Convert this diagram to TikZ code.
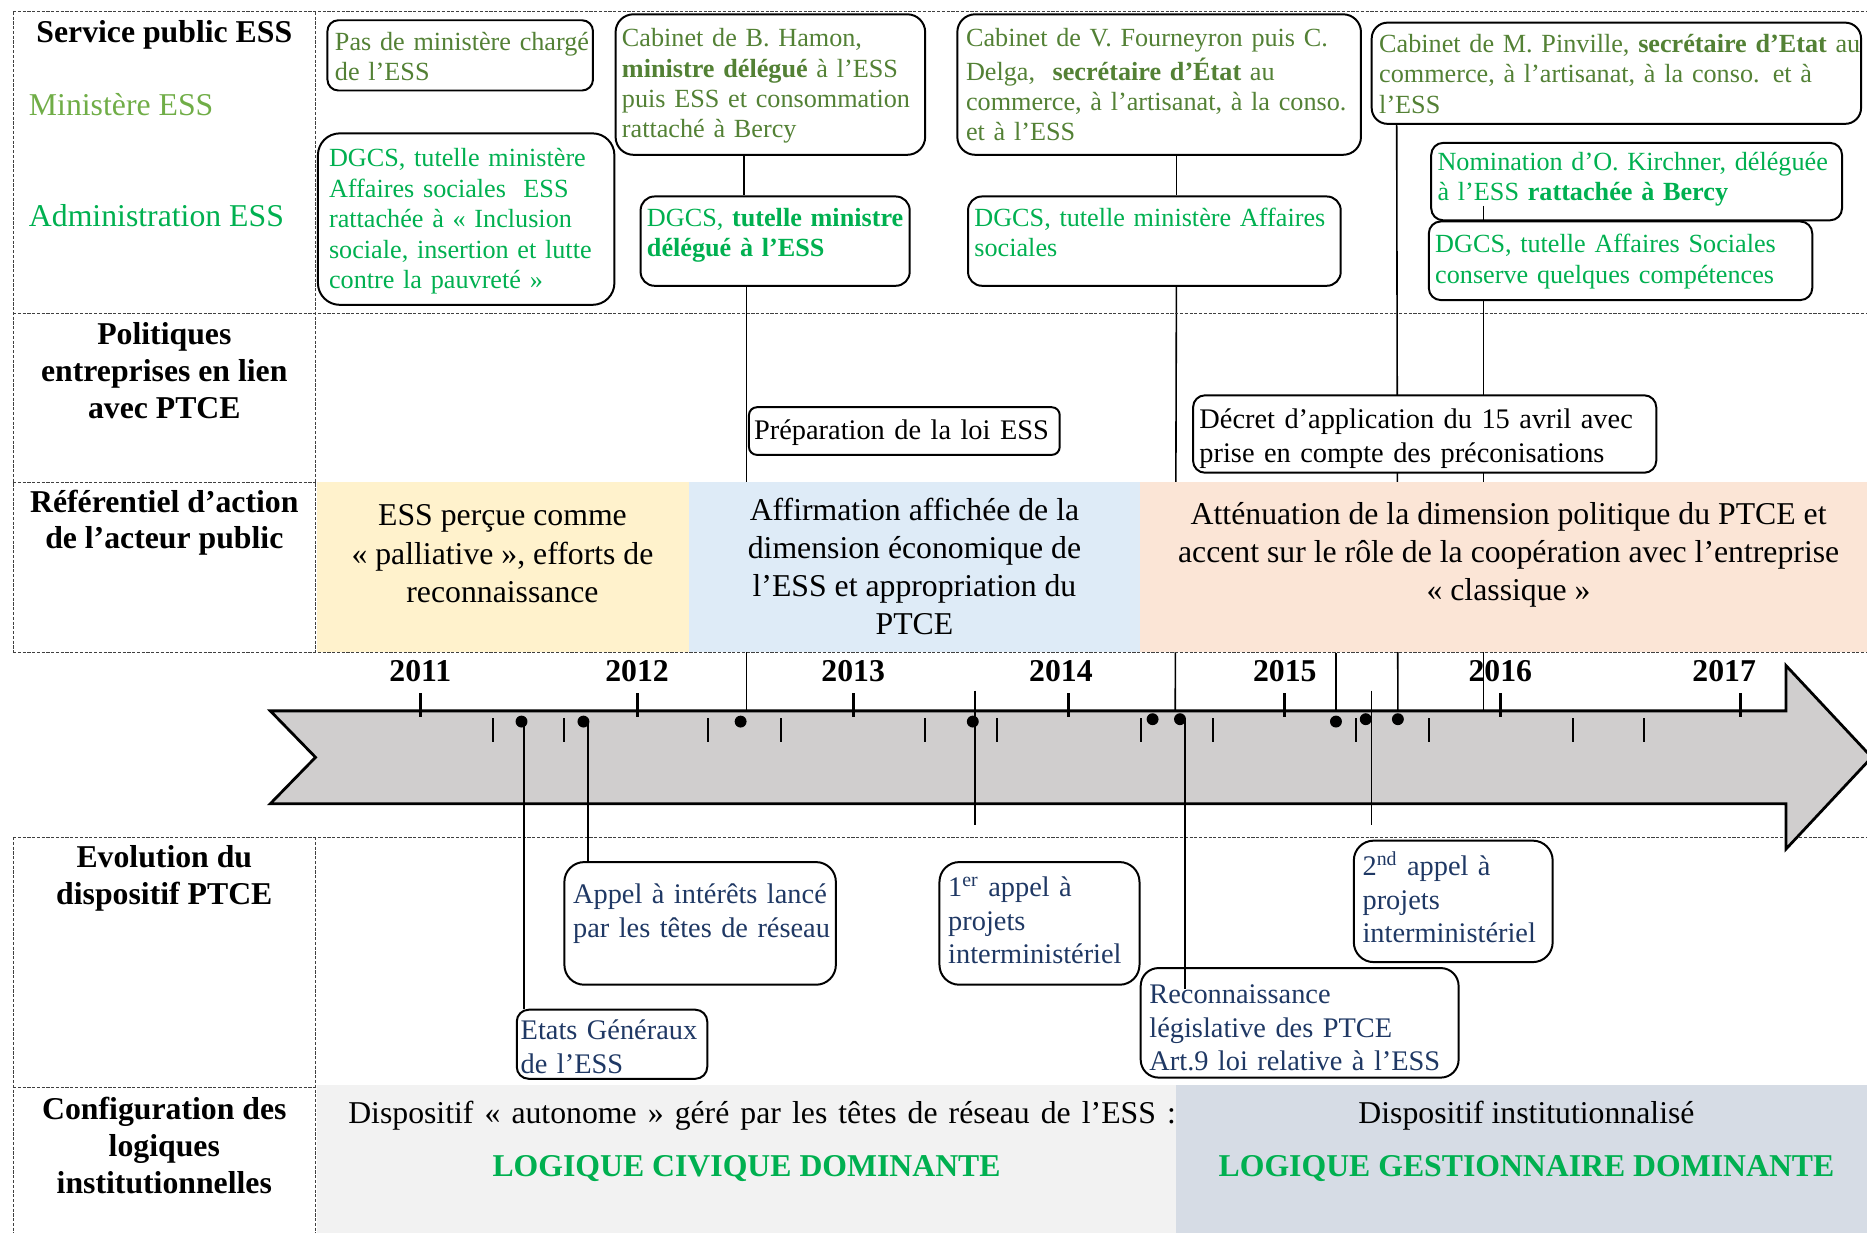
\documentclass[tikz,border=0pt]{standalone}
\usepackage{fontspec}
\setmainfont{Liberation Serif}
\usetikzlibrary{calc,fit}
\definecolor{cabgreen}{HTML}{538135}
\definecolor{lgreen}{HTML}{70AD47}
\definecolor{bgreen}{HTML}{00B050}
\definecolor{navy}{HTML}{1F3864}
\definecolor{cyel}{HTML}{FFF2CC}
\definecolor{cblue}{HTML}{DEEBF7}
\definecolor{cpeach}{HTML}{FBE5D6}
\definecolor{cgray}{HTML}{F2F2F2}
\definecolor{cbgray}{HTML}{D6DCE5}
\definecolor{arrowgray}{HTML}{D0CECE}
\newcommand\fb{\fontsize{13.2}{15.3}\selectfont}
\newcommand\fe{\fontsize{14.3}{16.9}\selectfont}
\newcommand\fh{\fontsize{16}{18.6}\selectfont}
\newcommand\fr{\fontsize{16}{19.2}\selectfont}
\pgfdeclarelayer{conn}
\pgfdeclarelayer{fills}
\pgfdeclarelayer{tl}
\pgfdeclarelayer{top}
\pgfsetlayers{conn,fills,tl,main,top}
\newcommand\tb[7]{%
  \node[rbox,#4,fit={#2 #3}] (#1) {};
  \node[tx,#6] (#1t) at #5 {\strut #7};
}
\begin{document}
\begin{tikzpicture}[x=0.6pt,y=-0.6pt,
  rbox/.style={draw=black, line width=1pt, fill=white, inner sep=0pt},
  tx/.style={anchor=north west, inner sep=0pt, align=left, text width=300pt, font=\fb},
  evo/.style={font=\fe, text=navy},
  grid/.style={line width=0.5pt, dash pattern=on 1.6pt off 0.8pt, black!75},
  conn/.style={line width=0.8pt},
  hd/.style={font=\fh\bfseries, align=center},
  yr/.style={font=\fh\bfseries},
  dot/.style={circle, fill=black, inner sep=0pt, minimum size=6pt},
  major/.style={line width=1.5pt},
  minor/.style={line width=1pt}]
\useasboundingbox (0,0) rectangle (1568,1035.5);

% ---------- fills and grid ----------
\begin{pgfonlayer}{fills}
\fill[cyel] (266,404.5) rectangle (579,547.5);
\fill[cblue] (579,404.5) rectangle (957,547.5);
\fill[cpeach] (957,404.5) rectangle (1568,547.5);
\fill[cgray] (266,911) rectangle (988,1036);
\fill[cbgray] (988,911) rectangle (1568,1036);
\draw[grid] (11,10) -- (1568,10);
\draw[grid] (11,263) -- (1568,263);
\draw[grid] (11,405) -- (265,405);
\draw[grid] (11,548) -- (1568,548);
\draw[grid] (11,703) -- (1568,703);
\draw[grid] (11,913) -- (265,913);
\draw[grid] (11,10) -- (11,548);
\draw[grid] (265,10) -- (265,548);
\draw[grid] (11,703) -- (11,1036);
\draw[grid] (265,703) -- (265,1036);
\end{pgfonlayer}

% ---------- timeline arrow ----------
\begin{pgfonlayer}{tl}
\draw[line width=1.4pt, fill=arrowgray, line join=miter]
  (227,597) -- (1500,597) -- (1500,559) -- (1572,636) -- (1500,713)
  -- (1500,675) -- (227,675) -- (265,636) -- cycle;
\foreach \x in {353,535,716.5,897.5,1079,1260,1462}
  \draw[major] (\x,582) -- (\x,602);
\foreach \x in {414,474,595,656,777,837,958,1019,1139,1200,1321,1381}
  \draw[minor] (\x,603) -- (\x,623);
\node[dot] (d1) at (438,606) {};
\node[dot] (d2) at (490,606) {};
\node[dot] (d3) at (622,606) {};
\node[dot] (d4) at (817,606) {};
\node[dot] (d5) at (968,604) {};
\node[dot] (d6) at (991,604) {};
\node[dot] (d7) at (1122,606) {};
\node[dot] (d8) at (1147,604) {};
\node[dot] (d9) at (1174,604) {};
\end{pgfonlayer}

% ---------- year labels ----------
\node[yr] (y1) at (353,564) {2011};
\node[yr] (y2) at (535,564) {2012};
\node[yr] (y3) at (716.5,564) {2013};
\node[yr] (y4) at (891,564) {2014};
\node[yr] (y5) at (1079,564) {2015};
\node[yr] (y6) at (1260,564) {2016};
\node[yr] (y7) at (1448,564) {2017};

% ---------- left column headings ----------
\node[hd] (h1) at (138,29) {Service public ESS};
\node[font=\fh, text=lgreen, anchor=west, inner sep=0pt] (h1a) at (24,88) {Ministère ESS};
\node[font=\fh, text=bgreen, anchor=west, inner sep=0pt] (h1b) at (24,181) {Administration ESS};
\node[hd] (h2) at (138,311) {Politiques\\ entreprises en lien\\ avec PTCE};
\node[hd] (h3) at (138,439) {Référentiel d’action\\ de l’acteur public};
\node[hd] (h4) at (138,738) {Evolution du\\ dispositif PTCE};
\node[hd] (h5) at (138,962) {Configuration des\\ logiques\\ institutionnelles};

% ---------- référentiel row ----------
\node[font=\fr, align=center] (r1) at (422,465) {ESS perçue comme\\ «~palliative~», efforts de\\ reconnaissance};
\node[font=\fr, align=center] (r2) at (768,476) {Affirmation affichée de la\\ dimension économique de\\ l’ESS et appropriation du\\ PTCE};
\node[font=\fr, align=center] (r3) at (1267,466) {Atténuation de la dimension politique du PTCE et\\ accent sur le rôle de la coopération avec l’entreprise\\ «~classique~»};

% ---------- configuration row ----------
\node[font=\fr] (c1) at (640,937) {\makebox[417pt][s]{Dispositif «~autonome~» géré par les têtes de réseau de l’ESS :}};
\node[font=\fr\bfseries, text=bgreen] (c2) at (627,981) {LOGIQUE CIVIQUE DOMINANTE};
\node[font=\fr] (c3) at (1282,937) {Dispositif institutionnalisé};
\node[font=\fr\bfseries, text=bgreen] (c4) at (1282,981) {LOGIQUE GESTIONNAIRE DOMINANTE};

% ---------- boxes ----------
\tb{b1}{(275,17)}{(498,76)}{rounded corners=5.5pt}{(281,24)}{text=cabgreen}
  {Pas de ministère chargé\\ de l’ESS}
\tb{b2}{(267,112)}{(516,256)}{rounded corners=11pt}{(276,122)}{text=bgreen}
  {DGCS, tutelle ministère\\ Affaires sociales\ \ ESS\\ rattachée à «~Inclusion\\ sociale, insertion et lutte\\ contre la pauvreté~»}
\tb{b3}{(517,12)}{(777,130)}{rounded corners=9pt}{(522,21)}{text=cabgreen}
  {Cabinet de B. Hamon,\\ \textbf{ministre délégué} à l’ESS\\ puis ESS et consommation\\ rattaché à Bercy}
\tb{b4}{(538,165)}{(764,240)}{rounded corners=7pt}{(543,172)}{text=bgreen}
  {DGCS, \textbf{tutelle ministre}\\ \textbf{délégué à l’ESS}}
\tb{b5}{(804,12)}{(1143,130)}{rounded corners=9pt}{(811,21)}{text=cabgreen}
  {Cabinet de V. Fourneyron puis C.\\ Delga,\ \ \textbf{secrétaire d’État} au\\ commerce, à l’artisanat, à la conso.\\ et à l’ESS}
\tb{b6}{(813,165)}{(1126,240)}{rounded corners=7pt}{(818,172)}{text=bgreen, text width=181.8pt}
  {\makebox[181.8pt][s]{DGCS, tutelle ministère Affaires}\\ sociales}
\tb{b7}{(1152,19)}{(1563,104)}{rounded corners=8pt}{(1158,26)}{text=cabgreen, text width=240pt}
  {\makebox[240pt][s]{Cabinet de M. Pinville, \textbf{secrétaire d’Etat} au}\\ commerce, à l’artisanat, à la conso. et à\\ l’ESS}
\tb{b8}{(1202,120)}{(1547,185)}{rounded corners=6pt}{(1207,125)}{text=bgreen, text width=201.6pt}
  {\makebox[201.6pt][s]{Nomination d’O. Kirchner, déléguée}\\ à l’ESS \textbf{rattachée à Bercy}}
\tb{b9}{(1200,186)}{(1522,252)}{rounded corners=6pt}{(1205,194)}{text=bgreen}
  {DGCS, tutelle Affaires Sociales\\ conserve quelques compétences}
\tb{b10}{(629,342)}{(890,382)}{rounded corners=4pt}{(633,349)}{font=\fe}
  {Préparation de la loi ESS}
\tb{b11}{(1002,332)}{(1391,397)}{rounded corners=6pt}{(1007,340)}{font=\fe, text width=228pt}
  {\makebox[228pt][s]{Décret d’application du 15 avril avec}\\ prise en compte des préconisations}
\tb{b12}{(474,724)}{(702,827)}{rounded corners=10pt}{(481,739)}{evo}
  {Appel à intérêts lancé\\ par les têtes de réseau}
\tb{b13}{(434,848)}{(594,906)}{rounded corners=6pt}{(437,853)}{evo, text width=91.8pt}
  {\makebox[91.8pt][s]{Etats Généraux}\\ de l’ESS}
\tb{b14}{(789,724)}{(957,827)}{rounded corners=10pt}{(796,733)}{evo}
  {1\textsuperscript{er} appel à\\ projets\\ interministériel}
\tb{b15}{(958,813)}{(1225,905)}{rounded corners=9pt}{(965,823)}{evo}
  {Reconnaissance\\ législative des PTCE\\ Art.9 loi relative à l’ESS}
\tb{b16}{(1137,706)}{(1304,808)}{rounded corners=10pt}{(1144,715)}{evo}
  {2\textsuperscript{nd} appel à\\ projets\\ interministériel}

% ---------- helper coordinates ----------
\coordinate (v440) at (440,0);
\coordinate (v494) at (494,0);
\coordinate (v625) at (625,0);
\coordinate (v627) at (627,0);
\coordinate (v988) at (988,0);
\coordinate (v995) at (995,0);
\coordinate (v1173) at (1173,0);
\coordinate (v1246) at (1246,0);
\coordinate (a1) at (627,602);
\coordinate (a2) at (987,597);
\coordinate (a3) at (995,831);
\coordinate (a4) at (1246,597);
\coordinate (a5) at (1122,548);
\coordinate (a6) at (819,580);
\coordinate (a7) at (819,693);
\coordinate (a8) at (1152,580);
\coordinate (a9) at (1152,693);

% ---------- connectors hidden behind fills / boxes ----------
\begin{pgfonlayer}{conn}
\draw[conn] (b3.south -| v625) -- (b4.north -| v625);
\draw[conn] (b4.south -| v627) -- (a1);
\draw[conn] (b5.south -| v988) -- (b6.north -| v988);
\draw[conn] (b6.south -| v988) -- (a2);
\draw[conn] (b7.south -| v1173) -- (d9);
\draw[conn] (b9.south -| v1246) -- (a4);
\draw[conn] (a5) -- (d7);
\end{pgfonlayer}

% ---------- connectors below the axis ----------
\draw[conn] (a6) -- (a7);
\draw[conn] (a8) -- (a9);
\draw[conn] (v440 |- d1) -- (b13.north -| v440);
\draw[conn] (v494 |- d2) -- (b12.north -| v494);

\begin{pgfonlayer}{top}
\draw[conn] (v995 |- d6) -- (a3);
\draw[conn] (b8.south -| v1246) ++(0,-13) -- (b9.north -| v1246);
\end{pgfonlayer}
\end{tikzpicture}
\end{document}
